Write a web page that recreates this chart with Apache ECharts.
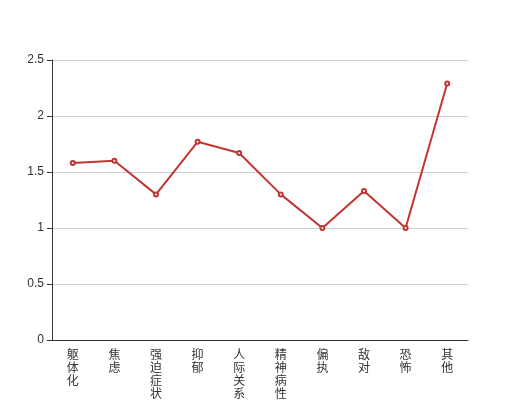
<!DOCTYPE html>
<html><head><meta charset="utf-8">
<script src="https://cdn.jsdelivr.net/npm/echarts@6/dist/echarts.min.js"></script>
<style>html,body{margin:0;padding:0;background:#fff}#c{width:520px;height:400px}</style>
</head><body><div id="c"></div>
<script>
var categories = ['躯体化','焦虑','强迫症状','抑郁','人际关系敏感','精神病性','偏执','敌对','恐怖','其他'];
var values = [1.58, 1.6, 1.3, 1.77, 1.67, 1.3, 1.0, 1.33, 1.0, 2.29];
var chart = echarts.init(document.getElementById('c'));
chart.setOption({
  animation: false,
  grid: {left: 52, right: 52, top: 60, bottom: 60, containLabel: false, outerBoundsMode: 'none'},
  xAxis: {
    type: 'category', data: categories, boundaryGap: true,
    axisLine: {lineStyle: {color: '#333'}},
    axisTick: {lineStyle: {color: '#333'}},
    axisLabel: {color: '#333', fontSize: 12, lineHeight: 13, interval: 0,
      fontFamily: 'Noto Sans CJK SC',
      formatter: function (v) { return v.split('').join('\n'); }}
  },
  yAxis: {
    type: 'value', min: 0, max: 2.5, interval: 0.5,
    axisLine: {show: true, lineStyle: {color: '#333'}},
    axisTick: {show: true, lineStyle: {color: '#333'}},
    axisLabel: {color: '#333', fontSize: 12},
    splitLine: {lineStyle: {color: '#ccc'}}
  },
  series: [{
    type: 'line', data: values,
    symbol: 'emptyCircle', symbolSize: 4,
    itemStyle: {color: '#c23531'},
    lineStyle: {color: '#c23531', width: 2}
  }]
});
</script></body></html>
